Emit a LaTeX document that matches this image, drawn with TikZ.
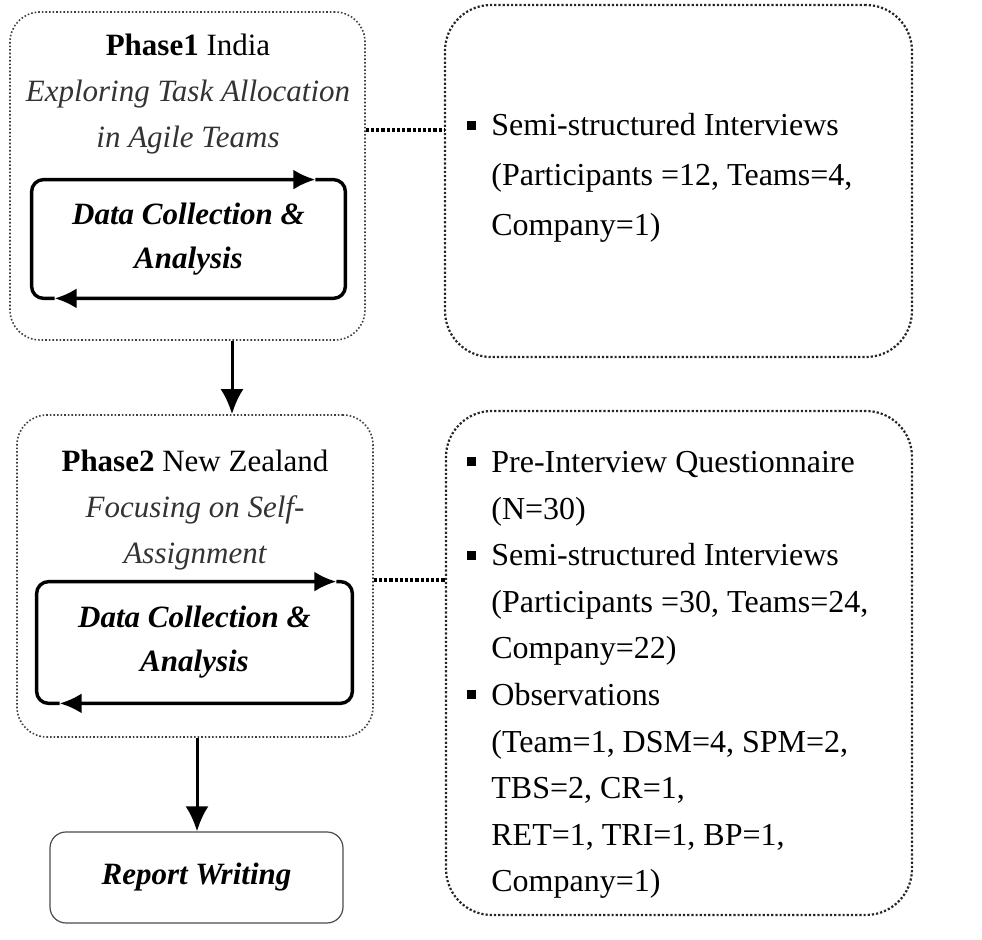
\documentclass[tikz,border=0pt]{standalone}
\usepackage{fontspec}
\setmainfont{Liberation Serif}
\usetikzlibrary{arrows.meta, positioning}
\newcommand{\sqitem}{\makebox[12pt][l]{\rule[3pt]{4.5pt}{4.5pt}}}
\newcommand{\contline}{\hspace*{12pt}}
\tikzset{
  phasebox/.style={rectangle,draw=black!75,densely dotted,line width=0.8pt,rounded corners=15pt},
  infobox/.style={rectangle,draw=black!85,densely dotted,line width=1.1pt,rounded corners=23pt},
  reportbox/.style={rectangle,draw=black!70,line width=0.6pt,rounded corners=8pt,align=center},
  loopbox/.style={rectangle,inner sep=0pt,align=center},
  loopline/.style={line width=1.7pt,rounded corners=6pt,-{Latex[length=11pt,width=10pt]}},
  flow/.style={line width=1.5pt,-{Latex[length=12.5pt,width=11.5pt]}},
  link/.style={densely dotted,line width=1.6pt},
  title/.style={align=center,font=\fontsize{15.5}{23}\selectfont,inner sep=0pt},
  facts/.style={align=left,anchor=west,inner sep=0pt}
}
\begin{document}
\begin{tikzpicture}[x=1pt,y=-1pt]
\useasboundingbox (0,0) rectangle (491,470);
% phase boxes on the left
\node[phasebox, minimum width=177.5pt, minimum height=164pt] (ph1) at (93.75,88) {};
\node[phasebox, minimum width=178pt, minimum height=161pt] (ph2) at (97.5,288) {};
\node[title] (ph1t) at (94,47) {\textbf{Phase1} India\\\color{black!80}\itshape Exploring Task Allocation\\\color{black!80}\itshape in Agile Teams};
\node[title] (ph2t) at (97.5,255) {\textbf{Phase2} New Zealand\\\color{black!80}\itshape Focusing on Self-\\\color{black!80}\itshape Assignment};
\node[loopbox, minimum width=156.5pt, minimum height=59pt, font=\fontsize{15.5}{22}\selectfont\bfseries\itshape] (dc1) at (94.25,119.5) {Data Collection \&\\Analysis};
\node[loopbox, minimum width=157.5pt, minimum height=60.5pt, font=\fontsize{15.5}{22}\selectfont\bfseries\itshape] (dc2) at (97.25,321.25) {Data Collection \&\\Analysis};
\node[reportbox, minimum width=146.5pt, minimum height=45.5pt, font=\fontsize{15.5}{20}\selectfont\bfseries\itshape] (rep) at (98.25,438.75) {Report Writing};

% cycle arrows
\draw[loopline] ([xshift=11.5pt]dc1.south west) -- (dc1.south west) -- (dc1.north west) -- ([xshift=-15pt]dc1.north east);
\draw[loopline] ([xshift=-15pt]dc1.north east) -- (dc1.north east) -- (dc1.south east) -- ([xshift=11.5pt]dc1.south west);
\draw[loopline] ([xshift=11.5pt]dc2.south west) -- (dc2.south west) -- (dc2.north west) -- ([xshift=-8pt]dc2.north east);
\draw[loopline] ([xshift=-8pt]dc2.north east) -- (dc2.north east) -- (dc2.south east) -- ([xshift=11.5pt]dc2.south west);

% detail boxes on the right
\node[infobox, minimum width=233.5pt, minimum height=176pt] (sq1) at (339.25,90.5) {};
\node[infobox, minimum width=233pt, minimum height=252pt] (sq2) at (339.5,331.5) {};
\node[facts, font=\fontsize{16}{25}\selectfont] (sq1t) at (233.5,89) {\sqitem Semi-structured Interviews\\\contline(Participants =12, Teams=4,\\\contline Company=1)};
\node[facts, font=\fontsize{16}{23.3}\selectfont] (sq2t) at (233.5,337.5) {\sqitem Pre-Interview Questionnaire\\\contline(N=30)\\\sqitem Semi-structured Interviews\\\contline(Participants =30, Teams=24,\\\contline Company=22)\\\sqitem Observations\\\contline(Team=1, DSM=4, SPM=2,\\\contline TBS=2, CR=1,\\\contline RET=1, TRI=1, BP=1,\\\contline Company=1)};

% connectors
\draw[link] ([yshift=23pt]ph1.east) -- ([yshift=23pt]ph1.east -| sq1.west);
\draw[link] ([yshift=-2pt]ph2.east) -- ([yshift=-2pt]ph2.east -| sq2.west);
\draw[flow] ([xshift=22.25pt]ph1.south) -- ([xshift=22.25pt]ph1.south |- ph2.north);
\draw[flow] ([xshift=1pt]ph2.south) -- ([xshift=1pt]ph2.south |- rep.north);
\end{tikzpicture}
\end{document}
